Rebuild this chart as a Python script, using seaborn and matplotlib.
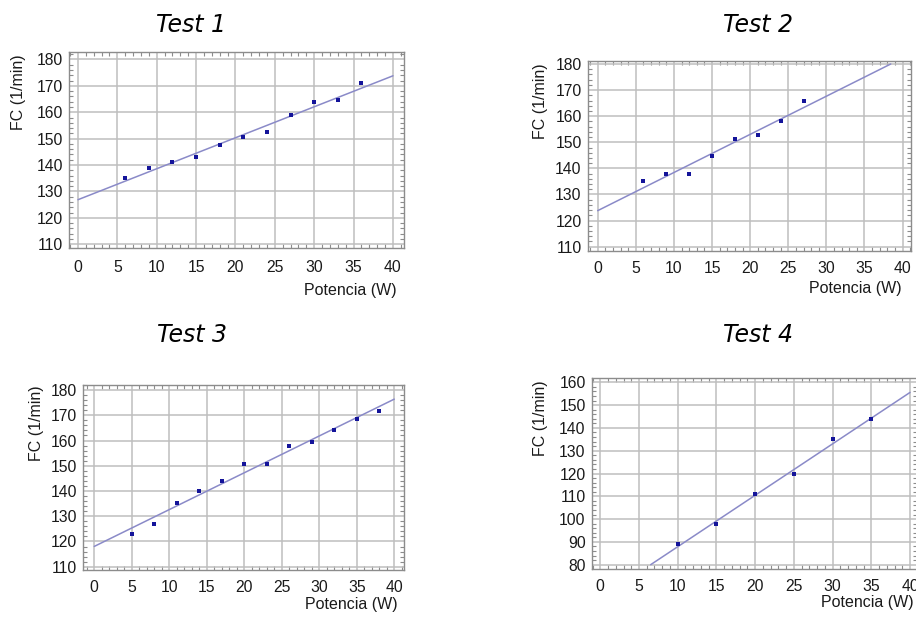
import numpy as np
import pandas as pd
import matplotlib
matplotlib.use("Agg")
import matplotlib.pyplot as plt
from matplotlib.ticker import MultipleLocator
import seaborn as sns

# Heart rate (FC) against power output for four exercise tests
potencia_1 = [6, 9, 12, 15, 18, 21, 24, 27, 30, 33, 36]
fc_1 = [135.0, 138.8, 141.3, 142.9, 147.5, 150.5, 152.4, 158.9, 163.9, 164.5, 170.9]

potencia_2 = [6, 9, 12, 15, 18, 21, 24, 27]
fc_2 = [135.3, 137.7, 137.7, 144.6, 151.3, 152.8, 158.0, 166.0]

potencia_3 = [5, 8, 11, 14, 17, 20, 23, 26, 29, 32, 35, 38]
fc_3 = [122.9, 127.0, 135.4, 140.1, 144.1, 150.8, 150.7, 157.8, 159.5, 164.3, 168.5, 171.8]

potencia_4 = [10, 15, 20, 25, 30, 35]
fc_4 = [89.1, 97.7, 110.9, 119.9, 135.0, 143.9]

titulos = ["Test 1", "Test 2", "Test 3", "Test 4"]
eje_x = "Potencia (W)"
eje_y = "FC (1/min)"

sns.set_theme(style="white")
plt.rcParams["font.family"] = ["Liberation Sans", "DejaVu Sans"]

W, H = 916, 617
fig = plt.figure(figsize=(W / 100, H / 100), dpi=100)
fig.patch.set_facecolor("white")


def fx(px):
    return px / W


def fy(py):
    return 1 - py / H


# per panel: frame (left, right, top, bottom) in pixels, axis limits, grid range,
# title centre, y-label centre, x-label right end / centre, x tick pad
paneles = [
    dict(x=potencia_1, y=fc_1, box=(69, 404, 52, 248), xlim=(-1.14, 41.4),
         ylim=(108.6, 182.8), yr=(110, 180), title=(191, 25), ylab=(19, 92),
         xlab=(397, 290), pad=9),
    dict(x=potencia_2, y=fc_2, box=(588, 911, 61, 251), xlim=(-1.27, 41.1),
         ylim=(108.35, 181.15), yr=(110, 180), title=(758, 25), ylab=(540, 101),
         xlab=(902, 289), pad=7),
    dict(x=potencia_3, y=fc_3, box=(83, 404, 385, 570), xlim=(-1.5, 41.3),
         ylim=(108.7, 182.0), yr=(110, 180), title=(192, 335), ylab=(37, 423),
         xlab=(398, 604), pad=7),
    dict(x=potencia_4, y=fc_4, box=(592, 917, 378, 569), xlim=(-1.07, 40.9),
         ylim=(78.1, 161.9), yr=(80, 160), title=(758, 335), ylab=(541, 418),
         xlab=(914, 603), pad=7),
]

punto = "#14149a"
recta = "#8a8ac8"
marco = "#8c8c8c"
rejilla = "#bebebe"

for titulo, p in zip(titulos, paneles):
    L, R, T, B = p["box"]
    ax = fig.add_axes([fx(L), fy(B), fx(R - L), (B - T) / H])
    ax.set_facecolor("white")
    df = pd.DataFrame({"x": p["x"], "y": p["y"]})

    # least-squares line, kept inside x in [0, 40] and the gridded y range
    m, b = np.polyfit(df["x"], df["y"], 1)
    lo, hi = p["yr"]
    x0 = max(0.0, (lo - b) / m)
    x1 = min(40.0, (hi - b) / m)
    xs = np.linspace(x0, x1, 50)
    fit = pd.DataFrame({"x": xs, "y": m * xs + b})
    sns.lineplot(data=fit, x="x", y="y", ax=ax, color=recta, lw=1.1, zorder=3)
    sns.scatterplot(data=df, x="x", y="y", ax=ax, marker="s", s=12,
                    color=punto, edgecolor=punto, linewidth=0, zorder=4)

    ax.set_xlim(*p["xlim"])
    ax.set_ylim(*p["ylim"])
    ax.xaxis.set_major_locator(MultipleLocator(5))
    ax.xaxis.set_minor_locator(MultipleLocator(1))
    ax.yaxis.set_major_locator(MultipleLocator(10))
    ax.yaxis.set_minor_locator(MultipleLocator(2))
    ax.grid(True, which="major", color=rejilla, lw=1.1)
    ax.set_axisbelow(True)
    for s in ax.spines.values():
        s.set_visible(True)
        s.set_color(marco)
        s.set_linewidth(1.0)
    ax.tick_params(which="both", direction="in", top=True, right=True,
                   bottom=True, left=True, color=marco)
    ax.tick_params(which="major", length=0)
    ax.tick_params(which="minor", length=3, width=0.8)
    ax.tick_params(axis="x", which="major", pad=p["pad"], labelsize=11.3,
                   labelcolor="#1a1a1a")
    ax.tick_params(axis="y", which="major", pad=4.5, labelsize=11.3,
                   labelcolor="#1a1a1a")

    ax.set_xlabel(eje_x, fontsize=11.5, color="#1a1a1a", ha="right", va="center")
    ax.xaxis.set_label_coords(fx(p["xlab"][0]), fy(p["xlab"][1]),
                              transform=fig.transFigure)
    ax.set_ylabel(eje_y, fontsize=11.5, color="#1a1a1a", ha="center", va="center")
    ax.yaxis.set_label_coords(fx(p["ylab"][0]), fy(p["ylab"][1]),
                              transform=fig.transFigure)

    fig.text(fx(p["title"][0]), fy(p["title"][1]), titulo, ha="center",
             va="center", fontsize=17, style="italic", family="DejaVu Sans",
             color="black")

fig.savefig("out.png", dpi=100, facecolor="white")
